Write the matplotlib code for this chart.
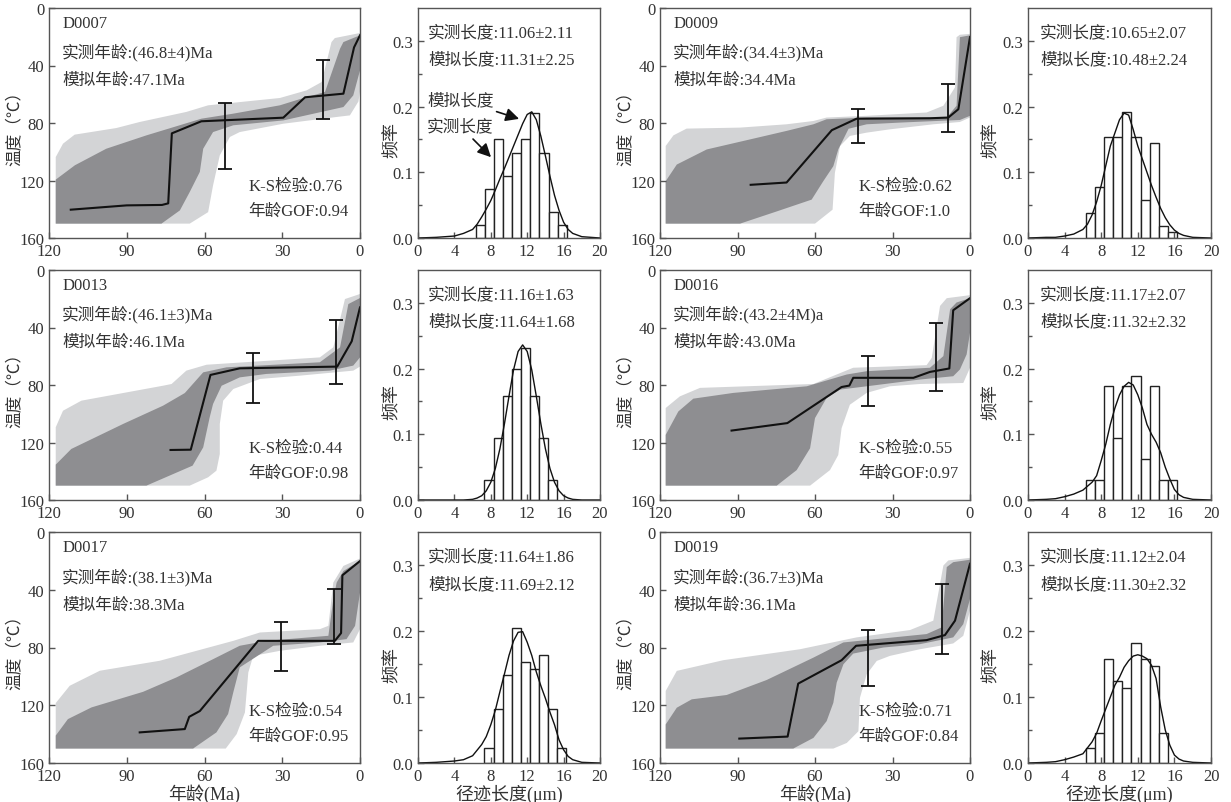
import numpy as np
import matplotlib
matplotlib.use("Agg")
import matplotlib.pyplot as plt

plt.rcParams['font.family'] = ['Liberation Serif', 'Noto Sans CJK SC']
plt.rcParams['axes.unicode_minus'] = False

TXT = '#333333'
LIGHT = '#d3d4d6'
DARK = '#8e8e91'

# ---------------- thermal history data (t in Ma, T in degC) ----------------
# best path, acceptable envelope (light), good envelope (dark), error bars (t, Tlow, Thigh)
d0007_best = ([111.6, 90, 76.4, 74.0, 72.6, 61.2, 29.6, 21.2, 6.4, 2.3, 0],
              [140.3, 137.3, 137, 135.9, 87.2, 78.8, 76.3, 62.1, 59.6, 27.4, 19])
d0007_acc_up = ([117.4, 114.6, 110.1, 94, 85, 67, 58.6, 30.9, 20.6, 14.8, 11, 9.7, 0],
                [103.7, 94.4, 88.1, 83.5, 79.3, 72.3, 67.7, 62.6, 57.3, 51.5, 23.7, 20.9, 17.4])
d0007_acc_lo = ([0, 0.6, 3.9, 9, 29.6, 46.4, 50.2, 54.1, 56.7, 58.6, 65.7],
                [58, 65, 74.7, 75.8, 80.5, 86.3, 89.7, 102.5, 123.4, 142, 150])
d0007_good_up = ([117.4, 110, 97.9, 82.4, 61.2, 48.9, 30.9, 22.5, 13.5, 7.7, 6.4, 0],
                 [119.4, 109.4, 97.9, 88.6, 77, 73.5, 67.7, 63, 58.4, 28.3, 23.7, 19])
d0007_good_lo = ([0, 2.6, 6.4, 29.6, 48.9, 56.7, 60.5, 61.8, 65.7, 69.5, 76.6],
                 [43.4, 60.8, 68.9, 78.2, 81.6, 86.3, 97.9, 114, 128, 140.8, 150])
d0007_err = [(51.9, 65.9, 111.8), (14.4, 36.4, 77.5)]

d0009_best = ([84.9, 71, 53.5, 43.9, 15.5, 8.4, 4.5, 0],
              [123, 121.4, 85, 77, 76.7, 76.2, 70.4, 20.3])
d0009_acc_up = ([117.8, 114.8, 109.7, 89, 71, 60.6, 55.5, 40, 16.8, 10.3, 5.8, 5.2, 3.9, 0],
                [96, 88.6, 83.9, 83.2, 80.9, 78.6, 76.2, 75, 72.7, 68, 55.2, 20.3, 18.6, 18])
d0009_acc_lo = ([0, 3.9, 14.2, 31, 40, 46.5, 50.3, 52.3, 53.2, 60],
                [76.2, 79.3, 80.9, 84.4, 86.7, 89, 96, 114.7, 140.3, 150])
d0009_good_up = ([117.8, 113.5, 101.9, 83.9, 71, 60.6, 55.5, 40, 9, 5.2, 3.9, 0],
                 [120.5, 108.9, 98.4, 90.9, 85.5, 80.9, 77.4, 76.2, 76.2, 68, 20.3, 19])
d0009_good_lo = ([0, 3.9, 27, 40, 47, 51, 52.9, 56.8, 61.3, 74.8, 89],
                 [75, 77.9, 79.7, 80.9, 84, 98.4, 110, 120.5, 133.3, 141.5, 150])
d0009_err = [(43.5, 70.2, 94.2), (8.4, 52.7, 86)]

d0013_best = ([73.1, 65.3, 57.7, 46.4, 8.8, 3.2, 0],
              [125.2, 125, 73, 68.4, 67.2, 49.6, 26])
d0013_acc_up = ([117.4, 114.6, 107.5, 76, 72.7, 67, 59.2, 15.5, 10.3, 5.8, 0],
                [109.4, 97.9, 90.9, 80.5, 79.3, 70, 65.9, 60.8, 53.8, 20.2, 16.7])
d0013_acc_lo = ([0, 2.6, 23.2, 38.6, 48.9, 52.8, 54.1, 54.1, 55.4, 58.6, 65.7],
                [67.2, 70, 73.5, 75.8, 82.8, 90.9, 107.1, 128, 139.6, 144.2, 150])
d0013_good_up = ([117.4, 111.4, 91.4, 76, 67.6, 60.5, 51.5, 15.5, 7.7, 4.5, 0],
                 [135.4, 124.5, 107.1, 94.4, 85.6, 71.2, 67.7, 64.2, 53.8, 23.7, 19.5])
d0013_good_lo = ([0, 2.6, 11.6, 36.1, 46.4, 53.4, 56.7, 58, 60.5, 64.6, 82.4],
                 [60.8, 66.5, 70, 72.3, 74.7, 80.5, 93.2, 102.5, 123.4, 136.1, 150])
d0013_err = [(41.2, 57.5, 92.8), (9.1, 34.8, 79.1)]

d0016_best = ([92.3, 70.7, 49.7, 46.7, 45.2, 21.9, 15.5, 8, 6.5, 0],
              [111.7, 106.5, 81.4, 80.4, 75, 75, 70.9, 68.5, 28, 19.6])
d0016_acc_up = ([117.8, 112.3, 104.5, 60.6, 45.2, 16.8, 14.8, 11.6, 9, 0],
                [96, 87.9, 82, 79.3, 68, 66.2, 61.1, 25, 19.6, 17.5])
d0016_acc_lo = ([0, 2.6, 19.4, 31, 40, 46.5, 49.7, 51, 54.2, 61.9],
                [68, 78.6, 79.3, 80.9, 85.5, 93.7, 110, 128.7, 139.2, 150])
d0016_good_up = ([117.8, 112.9, 107.1, 91.6, 63.2, 47.7, 40, 15.5, 10.3, 7.7, 5.2, 0],
                 [114.7, 98.4, 89.5, 85.5, 80.9, 72.7, 70.4, 68, 59.9, 27.3, 22.6, 19.6])
d0016_good_lo = ([0, 1.3, 3.9, 6.5, 19.4, 40, 50.3, 55.5, 60, 61.9, 67.1, 74.8],
                 [43.6, 58.7, 69.2, 73.9, 76.2, 80.9, 83.2, 89, 103, 124, 139.2, 150])
d0016_err = [(39.6, 59.9, 94.9), (13.2, 36.6, 84.4)]

d0017_best = ([85, 67.6, 65.9, 61.8, 39.3, 9.7, 7.3, 6.8, 0],
              [138.8, 136.5, 128, 124, 75.4, 75.4, 70, 30, 20.1])
d0017_acc_up = ([117.4, 112, 100.4, 77.3, 48.9, 38.6, 15.5, 12.2, 10.3, 6.4, 0],
                [118.5, 106.5, 96.1, 89.2, 75.4, 69.6, 67.3, 65, 35, 23.5, 18.4])
d0017_acc_lo = ([0, 2.6, 15.5, 30.9, 41.2, 43.1, 44.4, 47.6, 51.8],
                [67.3, 76.5, 78.8, 82.3, 85.8, 97.3, 125, 140, 150])
d0017_good_up = ([117.4, 112.7, 103.6, 83.7, 70.8, 56.7, 46.4, 36.1, 12.2, 10.3, 9, 6.4, 0],
                 [141, 129.6, 121.5, 110.7, 100.7, 88.1, 78.8, 75.4, 71.9, 46.6, 35, 27, 20])
d0017_good_lo = ([0, 1.9, 5.2, 15.5, 33.5, 46.4, 48.9, 50.9, 55.4, 64.4],
                 [42, 65, 74.2, 76.5, 78.8, 93.8, 111.1, 126.1, 138.8, 150])
d0017_err = [(30.5, 62, 96.1), (9.9, 39.2, 77.7)]

d0019_best = ([89.3, 70.6, 66.5, 49.7, 44.1, 16.8, 9.7, 5.8, 0],
              [143.1, 141.7, 105, 88.8, 78.8, 74.9, 71.4, 61.4, 22])
d0019_acc_up = ([117.8, 113.5, 95.5, 65.8, 43.9, 23.2, 14.2, 10.3, 8.4, 0],
                [110.1, 96.2, 88.8, 81.2, 73, 67.9, 61.4, 23.2, 19.7, 17.9])
d0019_acc_lo = ([0, 2.6, 6.5, 19.4, 31, 36.1, 40, 42.6, 43.2, 47.7, 52.9],
                [54.5, 71.9, 77.2, 81.2, 85.8, 89.3, 98.6, 114.8, 138, 146.1, 150])
d0019_good_up = ([117.8, 113.5, 107.7, 94.2, 78.7, 60.6, 49, 16.8, 11, 9, 6.5, 0],
                 [133.3, 121.7, 115.9, 112.9, 102.5, 87, 76.5, 70.7, 66.1, 24.3, 20.9, 19.2])
d0019_good_lo = ([0, 2.6, 6.5, 19.4, 33.5, 45.2, 49, 51.6, 52.9, 55.5, 60.6, 68.4],
                 [46.4, 63.8, 73, 77.7, 80, 84.2, 91.6, 104.3, 118.3, 131, 142.6, 150])
d0019_err = [(39.6, 67.9, 106.7), (11, 35.9, 84.6)]

# ---------------- track length data (um, frequency) ----------------
d0007_bin0, d0007_freq = 6.35, [0.02, 0.075, 0.15, 0.095, 0.13, 0.15, 0.19, 0.13, 0.04, 0.02]
d0007_cx = [0, 2, 3, 4, 5, 6, 6.5, 7, 7.5, 8, 8.5, 9, 9.5, 10, 10.5, 11, 11.5, 12, 12.5,
            13, 13.5, 14, 14.5, 15, 15.5, 16, 16.5, 17, 18, 20]
d0007_cy = [0, 0.001, 0.002, 0.003, 0.007, 0.013, 0.021, 0.032, 0.044, 0.057, 0.073, 0.090,
            0.106, 0.123, 0.140, 0.157, 0.174, 0.188, 0.192, 0.180, 0.155, 0.125, 0.094,
            0.065, 0.042, 0.024, 0.013, 0.007, 0.002, 0]

d0009_bin0, d0009_freq = 6.3, [0.038, 0.077, 0.154, 0.154, 0.192, 0.154, 0.058, 0.144, 0.018, 0.009]
d0009_cx = [0, 2, 3, 4, 5, 6, 6.5, 7, 7.5, 8, 8.5, 9, 9.5, 10, 10.5, 11, 11.5, 12, 12.5,
            13, 13.5, 14, 14.5, 15, 15.5, 16, 16.5, 17, 18, 20]
d0009_cy = [0, 0.001, 0.001, 0.003, 0.006, 0.013, 0.021, 0.035, 0.055, 0.08, 0.11, 0.14,
            0.16, 0.18, 0.19, 0.187, 0.165, 0.14, 0.12, 0.1, 0.08, 0.062, 0.045, 0.031,
            0.02, 0.012, 0.007, 0.004, 0.001, 0]

d0013_bin0, d0013_freq = 7.3, [0.031, 0.094, 0.158, 0.2, 0.231, 0.158, 0.094, 0.031]
d0013_cx = [0, 5, 6, 6.5, 7, 7.5, 8, 8.5, 9, 9.5, 10, 10.5, 11, 11.5, 12, 12.5, 13, 13.5,
            14, 14.5, 15, 15.5, 16, 16.5, 17, 18, 20]
d0013_cy = [0, 0, 0.001, 0.003, 0.0065, 0.014, 0.027, 0.048, 0.078, 0.116, 0.158, 0.198,
            0.226, 0.236, 0.226, 0.198, 0.158, 0.116, 0.078, 0.048, 0.027, 0.014, 0.0065,
            0.003, 0.001, 0, 0]

d0016_bin0, d0016_freq = 6.3, [0.031, 0.031, 0.173, 0.094, 0.173, 0.189, 0.063, 0.173, 0.031, 0.031]
d0016_cx = [0, 2, 3, 4, 5, 6, 7, 7.5, 8, 8.5, 9, 9.5, 10, 10.5, 11, 11.5, 12, 12.5, 13,
            13.5, 14, 14.5, 15, 15.5, 16, 16.5, 17, 18, 20]
d0016_cy = [0, 0.001, 0.002, 0.005, 0.009, 0.015, 0.027, 0.037, 0.06, 0.085, 0.115, 0.14,
            0.16, 0.173, 0.179, 0.175, 0.16, 0.14, 0.115, 0.1, 0.088, 0.072, 0.05, 0.032,
            0.016, 0.008, 0.004, 0.001, 0]

d0017_bin0, d0017_freq = 7.3, [0.022, 0.082, 0.133, 0.204, 0.153, 0.143, 0.164, 0.082, 0.022]
d0017_cx = [0, 2, 3, 4, 5, 6, 7, 7.5, 8, 8.5, 9, 9.5, 10, 10.5, 11, 11.5, 12, 12.5, 13,
            13.5, 14, 14.5, 15, 15.5, 16, 16.5, 17, 18, 20]
d0017_cy = [0, 0.001, 0.002, 0.003, 0.005, 0.011, 0.028, 0.04, 0.058, 0.08, 0.108, 0.135,
            0.163, 0.185, 0.198, 0.199, 0.183, 0.163, 0.138, 0.117, 0.098, 0.077, 0.058,
            0.035, 0.02, 0.01, 0.005, 0.001, 0]

d0019_bin0, d0019_freq = 6.3, [0.023, 0.046, 0.158, 0.125, 0.114, 0.182, 0.158, 0.147, 0.046]
d0019_cx = [0, 2, 3, 4, 5, 6, 7, 7.5, 8, 8.5, 9, 9.5, 10, 10.5, 11, 11.5, 12, 12.5, 13,
            13.5, 14, 14.5, 15, 15.5, 16, 16.5, 17, 18, 20]
d0019_cy = [0, 0.001, 0.002, 0.005, 0.009, 0.014, 0.032, 0.045, 0.064, 0.082, 0.1, 0.118,
            0.13, 0.145, 0.155, 0.162, 0.164, 0.162, 0.158, 0.148, 0.128, 0.085, 0.05,
            0.027, 0.012, 0.006, 0.003, 0.001, 0]

# ---------------- labels ----------------
samples = ['D0007', 'D0009', 'D0013', 'D0016', 'D0017', 'D0019']
meas_age = ['(46.8±4)Ma', '(34.4±3)Ma', '(46.1±3)Ma', '(43.2±4M)a', '(38.1±3)Ma', '(36.7±3)Ma']
mod_age = ['47.1Ma', '34.4Ma', '46.1Ma', '43.0Ma', '38.3Ma', '36.1Ma']
ks = ['0.76', '0.62', '0.44', '0.55', '0.54', '0.71']
gof = ['0.94', '1.0', '0.98', '0.97', '0.95', '0.84']
meas_len = ['11.06±2.11', '10.65±2.07', '11.16±1.63', '11.17±2.07', '11.64±1.86', '11.12±2.04']
mod_len = ['11.31±2.25', '10.48±2.24', '11.64±1.68', '11.32±2.32', '11.69±2.12', '11.30±2.32']

thermal = [
    (d0007_best, d0007_acc_up, d0007_acc_lo, d0007_good_up, d0007_good_lo, d0007_err),
    (d0009_best, d0009_acc_up, d0009_acc_lo, d0009_good_up, d0009_good_lo, d0009_err),
    (d0013_best, d0013_acc_up, d0013_acc_lo, d0013_good_up, d0013_good_lo, d0013_err),
    (d0016_best, d0016_acc_up, d0016_acc_lo, d0016_good_up, d0016_good_lo, d0016_err),
    (d0017_best, d0017_acc_up, d0017_acc_lo, d0017_good_up, d0017_good_lo, d0017_err),
    (d0019_best, d0019_acc_up, d0019_acc_lo, d0019_good_up, d0019_good_lo, d0019_err),
]
hists = [
    (d0007_bin0, d0007_freq, d0007_cx, d0007_cy),
    (d0009_bin0, d0009_freq, d0009_cx, d0009_cy),
    (d0013_bin0, d0013_freq, d0013_cx, d0013_cy),
    (d0016_bin0, d0016_freq, d0016_cx, d0016_cy),
    (d0017_bin0, d0017_freq, d0017_cx, d0017_cy),
    (d0019_bin0, d0019_freq, d0019_cx, d0019_cy),
]

W, H = 1231, 803
fig = plt.figure(figsize=(W / 100, H / 100), dpi=100)

col_x = [(49, 311), (418, 182), (660, 310), (1028, 183)]
row_y = [(9, 239), (271, 501), (533, 764)]


def add_ax(col, row):
    x0, w = col_x[col]
    top, bot = row_y[row]
    return fig.add_axes([x0 / W, 1 - bot / H, w / W, (bot - top) / H])


def style(ax):
    for s in ax.spines.values():
        s.set_color('#555555')
        s.set_linewidth(1.0)
    ax.tick_params(direction='in', length=4, width=1, colors='#555555',
                   labelcolor=TXT, labelsize=12, top=False, right=False)
    ax.tick_params(which='minor', direction='in', length=3, width=1, colors='#555555')


def poly(up, lo):
    t = list(up[0]) + list(lo[0]) + [up[0][0]]
    T = list(up[1]) + list(lo[1]) + [lo[1][-1]]
    return t, T


for i in range(6):
    row, pair = i // 2, i % 2
    best, acc_up, acc_lo, good_up, good_lo, err = thermal[i]
    ax = add_ax(pair * 2, row)
    t, T = poly(acc_up, acc_lo)
    ax.fill(t, T, color=LIGHT, lw=0)
    t, T = poly(good_up, good_lo)
    ax.fill(t, T, color=DARK, lw=0)
    ax.plot(best[0], best[1], color='#111111', lw=1.5)
    for (et, lo, hi) in err:
        ax.errorbar(et, (lo + hi) / 2, yerr=(hi - lo) / 2, color='#111111',
                    lw=1.3, capsize=5, capthick=1.3)
    ax.set_xlim(120, 0)
    ax.set_ylim(160, 0)
    ax.set_xticks([120, 90, 60, 30, 0])
    ax.set_yticks([0, 40, 80, 120, 160])
    style(ax)
    ax.set_ylabel('温度（℃）', fontsize=12, color=TXT)
    ax.yaxis.set_label_coords(-0.085, 0.5)
    kw = dict(transform=ax.transAxes, fontsize=12, color=TXT, va='center', ha='left')
    ax.text(0.042, 0.935, samples[i], **kw)
    ax.text(0.042, 0.809, '实测年龄:' + meas_age[i], **kw)
    ax.text(0.042, 0.687, '模拟年龄:' + mod_age[i], **kw)
    ax.text(0.64, 0.226, 'K-S检验:' + ks[i], **kw)
    ax.text(0.64, 0.117, '年龄GOF:' + gof[i], **kw)
    if row == 2:
        ax.set_xlabel('年龄(Ma)', fontsize=13, color=TXT, labelpad=0)

    bin0, freq, cx, cy = hists[i]
    hx = add_ax(pair * 2 + 1, row)
    edges = bin0 + np.arange(len(freq))
    hx.bar(edges, freq, width=1.0, align='edge', facecolor='white',
           edgecolor='#222222', lw=1.0)
    hx.plot(cx, cy, color='#111111', lw=1.0)
    hx.set_xlim(0, 20)
    hx.set_ylim(0, 0.35)
    hx.set_xticks([0, 4, 8, 12, 16, 20])
    hx.set_yticks([0, 0.1, 0.2, 0.3])
    hx.set_yticklabels(['0.0', '0.1', '0.2', '0.3'])
    hx.set_yticks([0.05, 0.15, 0.25], minor=True)
    style(hx)
    hx.set_ylabel('频率', fontsize=13, color=TXT)
    hx.yaxis.set_label_coords(-0.095 if pair == 0 else -0.153, 0.43)
    kw = dict(transform=hx.transAxes, fontsize=12, color=TXT, va='center', ha='left')
    lx = 0.055 if pair == 0 else 0.066
    hx.text(lx, 0.896, '实测长度:' + meas_len[i], **kw)
    hx.text(lx, 0.775, '模拟长度:' + mod_len[i], **kw)
    if row == 2:
        hx.set_xlabel('径迹长度(μm)', fontsize=13, color=TXT, labelpad=0)
    if i == 0:
        ap = dict(arrowstyle='-|>', color='#111111', lw=1.2, mutation_scale=20)
        hx.annotate('模拟长度', xy=(11.4, 0.18), xytext=(1.0, 0.21), fontsize=12,
                    color=TXT, va='center', arrowprops=ap)
        hx.annotate('实测长度', xy=(8.24, 0.12), xytext=(1.0, 0.17), fontsize=12,
                    color=TXT, va='center', arrowprops=ap)

fig.savefig('out.png', dpi=100)
